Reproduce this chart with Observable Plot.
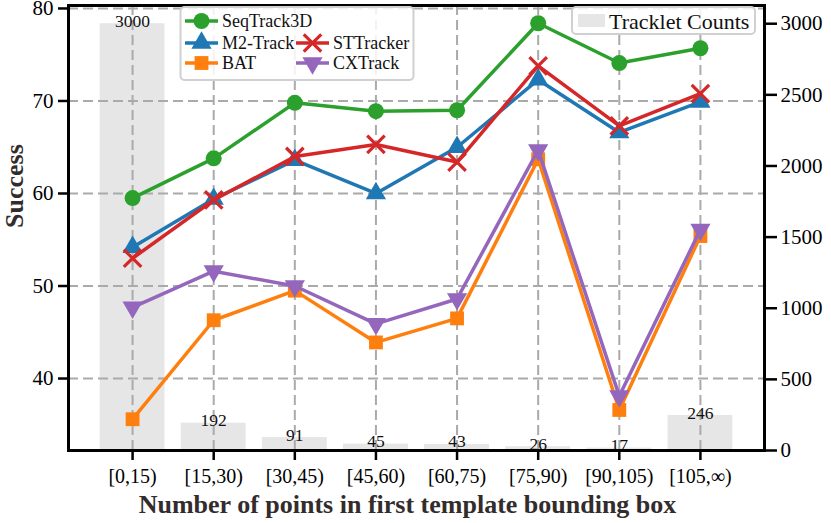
<!DOCTYPE html>
<html><head><meta charset="utf-8">
<script src="https://cdn.jsdelivr.net/npm/d3@7"></script>
<script src="https://cdn.jsdelivr.net/npm/@observablehq/plot@0.6"></script>
<style>
body{margin:0;background:#fff;}
#wrap{position:relative;width:831px;height:523px;}
#wrap svg.overlay{position:absolute;left:0;top:0;pointer-events:none;}
</style></head><body><div id="wrap"></div>
<script>
const categories = ["[0,15)","[15,30)","[30,45)","[45,60)","[60,75)","[75,90)","[90,105)","[105,\u221E)"];
const trackletCounts = [3000,192,91,45,43,26,17,246];
const seqTrack3D = [59.5,63.8,69.8,68.9,69.0,78.4,74.1,75.7];
const m2Track   = [54.2,59.4,63.6,60.0,65.0,72.3,66.6,69.9];
const stTracker = [53.0,59.3,64.0,65.3,63.4,73.8,67.3,70.8];
const bat       = [35.6,46.3,49.5,43.9,46.5,63.7,36.6,55.4];
const cxTrack   = [47.7,51.6,50.0,45.9,48.6,64.7,38.1,56.1];
const leftTicks = [40,50,60,70,80];
const rightTicks = [0,500,1000,1500,2000,2500,3000];
const xTitle = "Number of points in first template bounding box";
const yTitle = "Success";

const sqrt3 = Math.sqrt(3);
const triangleDown = {draw(ctx, size){ const y = -Math.sqrt(size/(sqrt3*3)); ctx.moveTo(0,-y*2); ctx.lineTo(-sqrt3*y,y); ctx.lineTo(sqrt3*y,y); ctx.closePath(); }};

const series = [
  {name:"M2-Track", values:m2Track, color:"#1f77b4", symbol:d3.symbolTriangle, r:7.5, stroked:false},
  {name:"STTracker", values:stTracker, color:"#d62728", symbol:d3.symbolTimes, r:8, stroked:true},
  {name:"BAT", values:bat, color:"#ff7f0e", symbol:d3.symbolSquare, r:7.8, stroked:false},
  {name:"CXTrack", values:cxTrack, color:"#9467bd", symbol:triangleDown, r:7.5, stroked:false},
  {name:"SeqTrack3D", values:seqTrack3D, color:"#2ca02c", symbol:d3.symbolCircle, r:8, stroked:false}
];

const Y0 = 32.22, Y1 = 80.32, RMAX = 3128;
const toLeft = c => Y0 + c*(Y1-Y0)/RMAX;
const fontFam = "'Liberation Serif','Times New Roman',serif";

const marks = [
  Plot.rect(trackletCounts, {x1:(d,i)=>i-0.4, x2:(d,i)=>i+0.4, y1:Y0, y2:d=>toLeft(d), fill:"#e6e6e6"}),
  Plot.gridX(d3.range(categories.length), {stroke:"#aaaaaa", strokeOpacity:1, strokeWidth:2, strokeDasharray:"10,5"}),
  Plot.gridY(leftTicks, {stroke:"#aaaaaa", strokeOpacity:1, strokeWidth:2, strokeDasharray:"10,5"}),
  Plot.text(trackletCounts, {x:(d,i)=>i, y:d=>toLeft(d), text:d=>String(d), lineAnchor:"bottom", dy:3, fontSize:17.5, fill:"#111"})
];
for (const s of series) {
  marks.push(Plot.line(s.values, {x:(d,i)=>i, y:d=>d, stroke:s.color, strokeWidth:3.5}));
  if (s.stroked) marks.push(Plot.dot(s.values, {x:(d,i)=>i, y:d=>d, symbol:s.symbol, r:s.r, stroke:s.color, strokeWidth:3.2, fill:"none"}));
  else marks.push(Plot.dot(s.values, {x:(d,i)=>i, y:d=>d, symbol:s.symbol, r:s.r, fill:s.color, stroke:"none"}));
}
marks.push(
  Plot.frame({stroke:"black", strokeWidth:3}),
  Plot.axisX(d3.range(categories.length), {tickFormat:i=>categories[i], tickSize:10, tickPadding:8, fontSize:20, strokeWidth:2.5, label:null}),
  Plot.axisY(leftTicks, {anchor:"left", tickSize:10, tickPadding:5, fontSize:21, strokeWidth:2.5, label:null}),
  Plot.axisY(rightTicks.map(toLeft), {anchor:"right", tickSize:12, tickPadding:4, fontSize:21, strokeWidth:2.5, tickFormat:d=>String(Math.round((d-Y0)*RMAX/(Y1-Y0))), label:null}),
  Plot.text([xTitle], {frameAnchor:"bottom", dy:54, dx:-9, text:d=>d, fontSize:26, fontWeight:"bold", fill:"#332c2c", lineAnchor:"middle"}),
  Plot.text([yTitle], {frameAnchor:"left", dx:-54, rotate:-90, text:d=>d, fontSize:26, fontWeight:"bold", fill:"#332c2c", lineAnchor:"middle"})
);

const chart = Plot.plot({
  width:831, height:523, marginLeft:68, marginRight:67, marginTop:5, marginBottom:73,
  x:{type:"linear", domain:[-0.79,7.79], label:null},
  y:{domain:[Y0,Y1], label:null},
  style:{fontFamily:fontFam, fontSize:"20px", color:"black", background:"white"},
  marks
});
const wrap = document.getElementById("wrap");
wrap.appendChild(chart);

// Legends overlay
const ov = d3.select(wrap).append("svg").attr("class","overlay").attr("width",831).attr("height",523)
  .style("font-family", fontFam);
ov.append("rect").attr("x",180.5).attr("y",7).attr("width",233).attr("height",73).attr("rx",4)
  .attr("fill","white").attr("fill-opacity",0.85).attr("stroke","#d0d0d0").attr("stroke-width",2);
const pos = {"SeqTrack3D":[185,21], "M2-Track":[185,43], "BAT":[185,63], "STTracker":[296,43], "CXTrack":[296,63]};
for (const s of series) {
  const [x0,y] = pos[s.name];
  ov.append("line").attr("x1",x0).attr("x2",x0+33).attr("y1",y).attr("y2",y).attr("stroke",s.color).attr("stroke-width",3.5);
  const p = ov.append("path").attr("d", d3.symbol().type(s.symbol).size(Math.PI*s.r*s.r)()).attr("transform",`translate(${x0+16.5},${y})`);
  if (s.stroked) p.attr("fill","none").attr("stroke",s.color).attr("stroke-width",3.2);
  else p.attr("fill",s.color);
  ov.append("text").attr("x",x0+37).attr("y",y).attr("dy","0.35em").attr("font-size",18).attr("fill","#111").text(s.name);
}
ov.append("rect").attr("x",572).attr("y",7).attr("width",183).attr("height",27).attr("rx",4)
  .attr("fill","white").attr("fill-opacity",0.85).attr("stroke","#d0d0d0").attr("stroke-width",2);
ov.append("rect").attr("x",578).attr("y",14).attr("width",27).attr("height",13).attr("fill","#e6e6e6");
ov.append("text").attr("x",609).attr("y",21).attr("dy","0.35em").attr("font-size",22).attr("fill","#111").text("Tracklet Counts");
</script></body></html>
